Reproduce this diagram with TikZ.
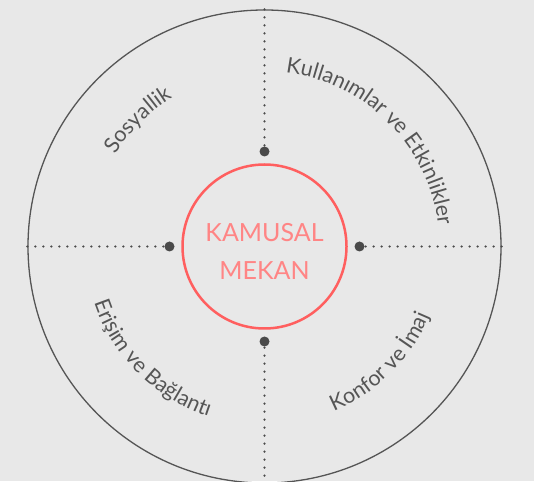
\documentclass[tikz,border=0pt]{standalone}
\usepackage{fontspec}
\setmainfont{Lato}
\usetikzlibrary{decorations.text,calc}
\definecolor{bg}{HTML}{E8E8E8}
\definecolor{ring}{HTML}{555555}
\definecolor{dotc}{HTML}{4A4A4A}
\definecolor{core}{HTML}{FF5F5F}
\definecolor{coretext}{HTML}{FF8585}
\definecolor{txt}{HTML}{555555}
\newcommand\lblfont{\fontsize{21.5}{24}\selectfont}
\begin{document}
\begin{tikzpicture}[x=1pt,y=1pt,
  dotnode/.style={circle,fill=dotc,minimum size=10pt,inner sep=0pt},
  dotline/.style={draw=dotc,line width=2.4pt,line cap=round,dash pattern=on 0pt off 8pt},
  arclabel/.style={decorate,decoration={text along path,text align=center,text color=txt,text={|\lblfont|#1}}}
]
\useasboundingbox (0,0) rectangle (534,481);
\fill[bg] (0,0) rectangle (534,481);
\clip (0,0) rectangle (534,481);
\coordinate (c) at (264.5,234.5);
\node[draw=ring,line width=1.3pt,circle,minimum size=473pt,inner sep=0pt] (outer) at (c) {};
\node[draw=core,line width=2.5pt,circle,minimum size=164pt,inner sep=0pt] (core) at (c) {};
\node[text=coretext,align=center,font=\fontsize{25}{38}\selectfont] (title) at ($(c)+(0,-4.5)$) {KAMUSAL\\MEKAN};
\node[dotnode] (dN) at ($(c)+(0,95)$) {};
\node[dotnode] (dS) at ($(c)+(0,-95)$) {};
\node[dotnode] (dW) at ($(c)+(-95,0)$) {};
\node[dotnode] (dE) at ($(c)+(95,0)$) {};
\path[dotline] (outer.north) -- (dN);
\path[dotline] (outer.south) -- (dS);
\path[dotline] (outer.west) -- (dW);
\path[dotline] (outer.east) -- (dE);
\path[arclabel={Sosyallik}] ($(c)+(180:175)$) arc[start angle=180,end angle=90,radius=175];
\path[arclabel={Kullanımlar ve Etkinlikler}] ($(c)+(90:175)$) arc[start angle=90,end angle=0,radius=175];
\path[arclabel={Erişim ve Bağlantı}] ($(c)+(180:179)$) arc[start angle=180,end angle=270,radius=179];
\path[arclabel={Konfor ve İmaj}] ($(c)+(270:179)$) arc[start angle=270,end angle=360,radius=179];
\end{tikzpicture}
\end{document}
